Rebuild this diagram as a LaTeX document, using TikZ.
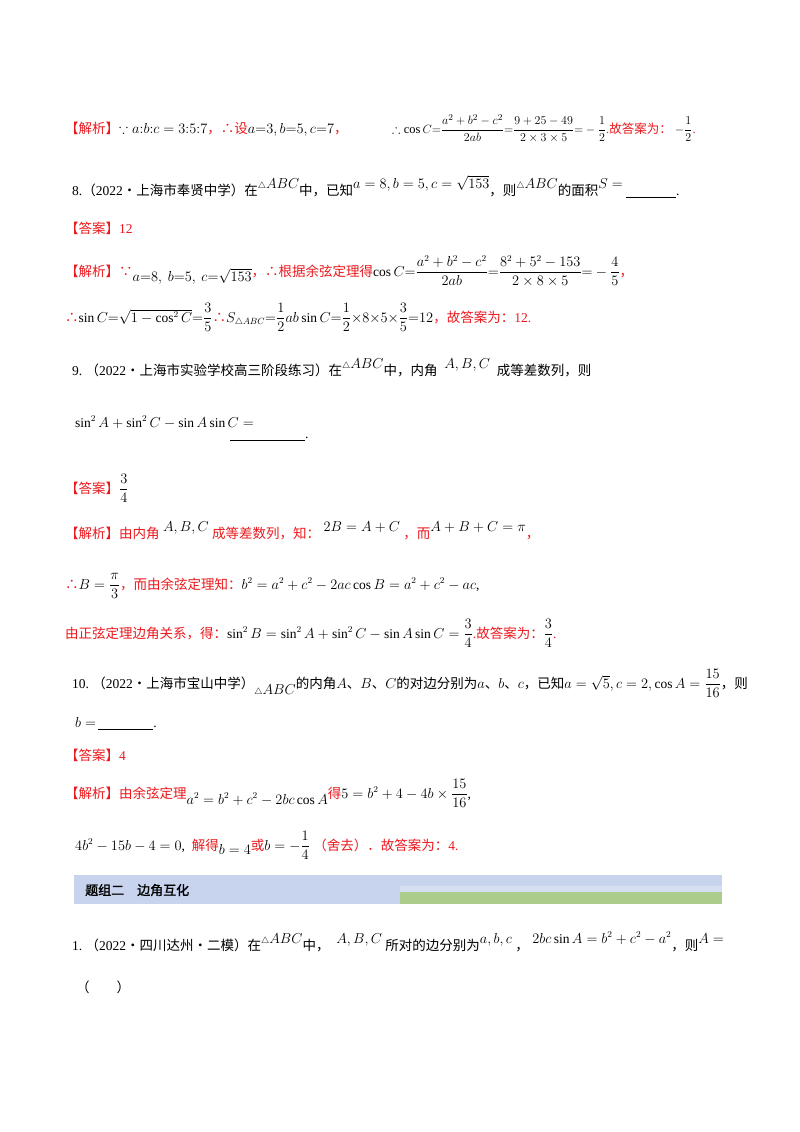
\documentclass[tikz,border=0pt]{standalone}
\usepackage{amsmath,amssymb}
\usepackage{fontspec}
\setmainfont{Liberation Serif}
\newfontfamily\cjk{Noto Sans CJK SC}
\newfontfamily\cjkb{Noto Sans CJK SC}[FakeBold=1.5]
\newcommand{\z}[1]{{\cjk #1}}
\newcommand{\up}[1]{\raisebox{7pt}{#1}}
\newcommand{\tri}{{\scriptstyle\triangle}}
\definecolor{rd}{RGB}{235,25,30}
\definecolor{bannerblue}{RGB}{200,212,238}
\definecolor{bannergreen}{RGB}{172,204,140}
\definecolor{bannerlight}{RGB}{214,222,242}
\begin{document}
\begin{tikzpicture}[x=1pt,y=-1pt,
  t/.style={anchor=base west,inner sep=0pt,font=\fontsize{13.5}{16}\selectfont},
  r/.style={t,text=rd}]
\useasboundingbox[fill=white] (0,0) rectangle (800,1132);
% line 1
\node[r] (l1a) at (65,133) {\z{【解析】}\textcolor{black}{$\because a{:}b{:}c=3{:}5{:}7$}\z{，∴设}\textcolor{black}{$a{=}3,b{=}5,c{=}7$}\z{，}};
\node[t,font=\fontsize{12.5}{15}\selectfont] (l1b) at (392,133) {$\therefore\cos C{=}\dfrac{a^2+b^2-c^2}{2ab}{=}\dfrac{9+25-49}{2\times3\times5}{=}-\dfrac12$\textcolor{rd}{.\z{故答案为：}}\ $-\dfrac12$\textcolor{rd}{.}};
% problem 8
\node[t] (p8) at (72,195) {8.\z{（}2022\z{·上海市奉贤中学）在}\up{$\tri ABC$}\z{中，已知}\up{$a=8,b=5,c=\sqrt{153}$}\z{，则}\up{$\tri ABC$}\z{的面积}\up{$S=$}\ \underline{\hspace{50pt}}.};
\node[r] (a8) at (65,233) {\z{【答案】}12};
\node[r] (s8a) at (65,276) {\z{【解析】∵}\raisebox{-5pt}{\textcolor{black}{$a{=}8,\ b{=}5,\ c{=}\sqrt{153}$}}\z{，∴根据余弦定理得}\textcolor{black}{$\cos C{=}\dfrac{a^2+b^2-c^2}{2ab}{=}\dfrac{8^2+5^2-153}{2\times8\times5}{=}-\dfrac45$}\z{，}};
\node[r] (s8b) at (65,322) {\z{∴}\textcolor{black}{$\sin C{=}\sqrt{1-\cos^2C}{=}\dfrac35$}\z{∴}\textcolor{black}{$S_{\tri ABC}{=}\dfrac12ab\sin C{=}\dfrac12{\times}8{\times}5{\times}\dfrac35{=}12$}\z{，故答案为：}12.};
% problem 9
\node[t] (p9) at (72,375) {9.\ \z{（}2022\z{·上海市实验学校高三阶段练习）在}\up{$\tri ABC$}\z{中，内角}\ \ \up{$A,B,C$}\ \ \z{成等差数列，则}};
\node[t] (p9b) at (75,427) {$\sin^2A+\sin^2C-\sin A\sin C=$};
\node[t] (p9c) at (230,438) {\underline{\hspace{75pt}}.};
\node[r] (a9) at (65,493) {\z{【答案】}\textcolor{black}{$\dfrac34$}};
\node[r] (s9a) at (65,538) {\z{【解析】由内角}\ \up{\textcolor{black}{$A,B,C$}}\ \z{成等差数列，知：}\ \up{\textcolor{black}{$2B=A+C$}}\ \z{，而}\up{\textcolor{black}{$A+B+C=\pi$}}\z{，}};
\node[r] (s9b) at (65,589) {\z{∴}\textcolor{black}{$B=\dfrac{\pi}{3}$}\z{，而由余弦定理知：}\textcolor{black}{$b^2=a^2+c^2-2ac\cos B=a^2+c^2-ac$}\textcolor{black}{,}};
\node[r] (s9c) at (65,638) {\z{由正弦定理边角关系，得：}\textcolor{black}{$\sin^2B=\sin^2A+\sin^2C-\sin A\sin C=\dfrac34$}.\z{故答案为：}\textcolor{black}{$\dfrac34$}.};
% problem 10
\node[t] (p10) at (72,688) {10.\ \z{（}2022\z{·上海市宝山中学）}\raisebox{-6pt}{$\tri ABC$}\z{的内角}$A$\z{、}$B$\z{、}$C$\z{的对边分别为}$a$\z{、}$b$\z{、}$c$\z{，已知}$a=\sqrt5,c=2,\cos A=\dfrac{15}{16}$\z{，则}};
\node[t] (p10b) at (75,727) {$b=$\,\underline{\hspace{55pt}}.};
\node[r] (a10) at (65,760) {\z{【答案】}4};
\node[r] (s10a) at (65,798) {\z{【解析】由余弦定理}\raisebox{-6pt}{\textcolor{black}{$a^2=b^2+c^2-2bc\cos A$}}\z{得}\textcolor{black}{$5=b^2+4-4b\times\dfrac{15}{16}$}\textcolor{black}{,}};
\node[r] (s10b) at (75,850) {\textcolor{black}{$4b^2-15b-4=0$}\textcolor{black}{,}\ \ \z{解得}\raisebox{-4pt}{\textcolor{black}{$b=4$}}\z{或}\textcolor{black}{$b=-\dfrac14$}\ \z{（舍去）．故答案为：}4.};
% banner
\fill[bannerblue] (74,875) rectangle (722,904);
\fill[bannerlight] (400,886) rectangle (722,892);
\fill[bannergreen] (400,892) rectangle (722,904);
\node[t,font=\fontsize{13}{15}\selectfont] (ban) at (85,895) {{\cjkb 题组二\quad 边角互化}};
% problem 1
\node[t] (p1) at (72,950) {1.\ \z{（}2022\z{·四川达州·二模）在}\up{$\tri ABC$}\z{中，}\ \ \up{$A,B,C$}\ \z{所对的边分别为}\up{$a,b,c$}\ \z{，}\ \up{$2bc\sin A=b^2+c^2-a^2$}\z{，则}\up{$A=$}};
\node[t] (p1b) at (76,992) {\z{（　　）}};
\end{tikzpicture}
\end{document}
